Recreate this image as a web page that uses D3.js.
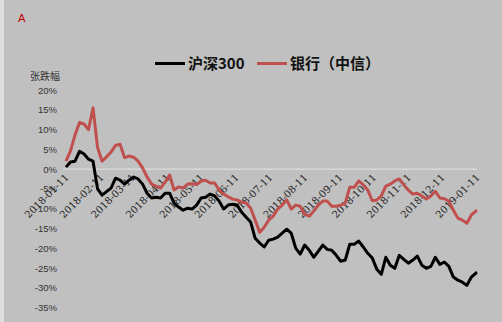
<!DOCTYPE html>
<html>
<head>
<meta charset="utf-8">
<script src="https://cdn.jsdelivr.net/npm/d3@7"></script>
<style>
  html, body { margin: 0; padding: 0; background: #c0c0c0; }
  svg { display: block; }
</style>
</head>
<body>
<svg id="chart" width="502" height="322"></svg>
<script>
// Trading-date samples, 2018-01-11 to 2019-01-11
const dates = [
  "2018-01-11","2018-01-15","2018-01-19","2018-01-23","2018-01-27","2018-01-31",
  "2018-02-04","2018-02-08","2018-02-12","2018-02-16","2018-02-20","2018-02-24",
  "2018-02-28","2018-03-04","2018-03-08","2018-03-12","2018-03-16","2018-03-20",
  "2018-03-24","2018-03-28","2018-04-01","2018-04-05","2018-04-09","2018-04-13",
  "2018-04-17","2018-04-21","2018-04-25","2018-04-29","2018-05-03","2018-05-07",
  "2018-05-11","2018-05-15","2018-05-19","2018-05-23","2018-05-27","2018-05-31",
  "2018-06-04","2018-06-08","2018-06-12","2018-06-16","2018-06-20","2018-06-24",
  "2018-06-28","2018-07-02","2018-07-06","2018-07-10","2018-07-14","2018-07-18",
  "2018-07-22","2018-07-26","2018-07-30","2018-08-03","2018-08-07","2018-08-11",
  "2018-08-15","2018-08-19","2018-08-23","2018-08-27","2018-08-31","2018-09-04",
  "2018-09-08","2018-09-12","2018-09-16","2018-09-20","2018-09-24","2018-09-28",
  "2018-10-02","2018-10-06","2018-10-10","2018-10-14","2018-10-18","2018-10-22",
  "2018-10-26","2018-10-30","2018-11-03","2018-11-07","2018-11-11","2018-11-15",
  "2018-11-19","2018-11-23","2018-11-27","2018-12-01","2018-12-05","2018-12-09",
  "2018-12-13","2018-12-17","2018-12-21","2018-12-25","2018-12-29","2019-01-02",
  "2019-01-06","2019-01-10","2019-01-11"
];

// Cumulative change, percent
const hs300 = [
  0.5, 1.8, 2.0, 4.5, 3.8, 2.5,
  2.0, -5.0, -6.6, -5.7, -4.8, -2.3,
  -2.8, -3.8, -2.8, -2.0, -2.5, -3.8,
  -6.1, -7.3, -7.1, -7.3, -6.1, -6.1,
  -8.6, -9.6, -10.4, -9.9, -10.1, -9.1,
  -7.3, -7.1, -6.3, -6.8, -8.1, -10.1,
  -9.1, -8.9, -9.1, -10.9, -12.2, -13.4,
  -17.5, -18.7, -19.7, -18.0, -17.7, -17.2,
  -16.2, -15.2, -16.2, -20.0, -21.5, -19.2,
  -20.5, -22.3, -20.8, -19.2, -20.3, -20.5,
  -21.8, -23.3, -23.0, -19.0, -19.0, -18.2,
  -19.7, -21.3, -22.5, -25.3, -26.6, -22.3,
  -24.3, -25.1, -21.8, -22.8, -23.8, -23.0,
  -22.0, -24.3, -25.1, -24.6, -22.3, -24.1,
  -23.5, -24.6, -27.3, -28.1, -28.6, -29.4,
  -27.3, -26.3, -26.1
];

const banks = [
  2.0, 4.6, 8.6, 11.8, 11.4, 10.0,
  15.5, 5.5, 2.0, 3.1, 4.3, 6.0,
  6.3, 2.9, 3.3, 3.0, 2.0, 0.3,
  -2.0, -3.8, -4.3, -4.8, -3.3, -1.5,
  -5.3, -4.5, -4.8, -3.8, -3.7, -3.9,
  -3.0, -2.8, -3.5, -3.5, -5.3, -6.3,
  -7.0, -7.6, -7.8, -8.4, -8.6, -9.9,
  -12.9, -16.0, -14.7, -12.9, -11.9, -10.1,
  -9.1, -7.8, -10.1, -9.1, -9.4, -11.4,
  -11.9, -10.6, -9.1, -8.1, -8.1, -9.4,
  -9.4, -9.1, -8.6, -4.6, -4.6, -3.0,
  -4.0, -5.3, -8.0, -7.8, -6.8, -4.3,
  -3.8, -3.0, -2.5, -4.0, -5.3, -6.3,
  -6.1, -6.8, -7.6, -6.8, -5.6, -7.3,
  -7.5, -8.1, -10.4, -12.4, -12.9, -13.7,
  -11.6, -10.6, -10.4
];

const yTicks = [20, 15, 10, 5, 0, -5, -10, -15, -20, -25, -30, -35];
const xTickDates = [
  "2018-01-11","2018-02-11","2018-03-11","2018-04-11","2018-05-11","2018-06-11",
  "2018-07-11","2018-08-11","2018-09-11","2018-10-11","2018-11-11","2018-12-11",
  "2019-01-11"
];
const seriesNames = ["沪深300", "银行（中信）"];
const seriesColors = ["#000000", "#c0504d"];

const parse = d3.utcParse("%Y-%m-%d");
const fmt = d3.utcFormat("%Y-%m-%d");
const svg = d3.select("#chart");

// backdrop and left frame strip
svg.append("rect").attr("width", 502).attr("height", 322).attr("fill", "#c0c0c0");
svg.append("rect").attr("x", 0).attr("y", 0).attr("width", 4).attr("height", 322).attr("fill", "#dedede");

const x = d3.scaleUtc()
  .domain([parse("2018-01-11"), parse("2019-01-11")])
  .range([66, 477]);
const y = d3.scaleLinear().domain([-35, 20]).range([307.5, 90]);

const font = "'Noto Sans CJK SC', 'Noto Sans', sans-serif";

// panel letter
svg.append("text").attr("x", 18).attr("y", 22)
  .attr("font-family", "'DejaVu Sans', sans-serif").attr("font-size", 11)
  .attr("fill", "#c00000").text("A");

// y-axis title
svg.append("text").attr("x", 30).attr("y", 80)
  .attr("font-family", font).attr("font-size", 10).attr("fill", "#333")
  .text("张跌幅");

// y axis (labels only)
const yAxis = d3.axisLeft(y).tickValues(yTicks).tickSize(0).tickPadding(0)
  .tickFormat(d => d + "%");
const gy = svg.append("g").attr("transform", "translate(57,0)").call(yAxis);
gy.select(".domain").remove();
gy.selectAll("text").attr("font-family", "'Liberation Sans', Arial, sans-serif")
  .attr("font-size", 9.5).attr("fill", "#333");

// zero baseline
svg.append("line")
  .attr("x1", 63).attr("x2", 477)
  .attr("y1", y(0)).attr("y2", y(0))
  .attr("stroke", "#dcdcdc").attr("stroke-width", 1.2);

// x axis labels along the zero line, rotated
const xAxis = d3.axisBottom(x).tickValues(xTickDates.map(parse)).tickSize(0)
  .tickFormat(fmt);
const gx = svg.append("g").attr("transform", `translate(0,${y(0)})`).call(xAxis);
gx.select(".domain").remove();
gx.selectAll("text")
  .attr("font-family", "'DejaVu Serif', serif").attr("font-size", 10)
  .attr("fill", "#222")
  .attr("text-anchor", "end")
  .attr("dy", null).attr("y", null)
  .attr("transform", "translate(3,9) rotate(-45)");

// series lines
const rows = dates.map((d, i) => ({ date: parse(d), v: [hs300[i], banks[i]] }));
const line = k => d3.line().x(d => x(d.date)).y(d => y(d.v[k]))(rows);

[1, 0].forEach(k => {
  svg.append("path").attr("d", line(k))
    .attr("fill", "none").attr("stroke", seriesColors[k])
    .attr("stroke-width", 3).attr("stroke-linejoin", "round");
});

// legend
const legendItems = [
  { x: 155, name: seriesNames[0], color: seriesColors[0] },
  { x: 257, name: seriesNames[1], color: seriesColors[1] }
];
const lg = svg.append("g");
legendItems.forEach(it => {
  lg.append("line").attr("x1", it.x).attr("x2", it.x + 30)
    .attr("y1", 63.5).attr("y2", 63.5)
    .attr("stroke", it.color).attr("stroke-width", 3);
  lg.append("text").attr("x", it.x + 33).attr("y", 69)
    .attr("font-family", font).attr("font-size", 15).attr("font-weight", "bold")
    .attr("fill", "#111").text(it.name);
});
</script>
</body>
</html>
